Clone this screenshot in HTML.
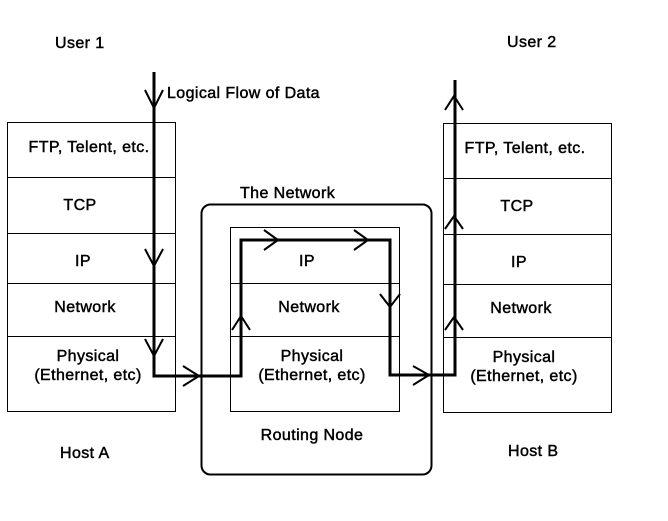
<!DOCTYPE html>
<html><head><style>
html,body{margin:0;padding:0;background:#fff;width:668px;height:521px;overflow:hidden}
svg text{font-family:"Liberation Sans",Arial,sans-serif;font-size:16px;fill:#000;stroke:#000;stroke-width:0.45;letter-spacing:0.4px}
</style></head><body>
<svg width="668" height="521" viewBox="0 0 668 521" xmlns="http://www.w3.org/2000/svg">
<g fill="none" stroke="#000" stroke-width="1">
<rect x="7.5" y="122.5" width="168" height="289"/>
<line x1="7" y1="177.5" x2="176" y2="177.5"/>
<line x1="7" y1="233.5" x2="176" y2="233.5"/>
<line x1="7" y1="283.5" x2="176" y2="283.5"/>
<line x1="7" y1="336.5" x2="176" y2="336.5"/>
<rect x="443.5" y="123.5" width="168" height="289"/>
<line x1="443" y1="178.5" x2="612" y2="178.5"/>
<line x1="443" y1="234.5" x2="612" y2="234.5"/>
<line x1="443" y1="284.5" x2="612" y2="284.5"/>
<line x1="443" y1="337.5" x2="612" y2="337.5"/>
<rect x="230.5" y="227.5" width="169" height="184"/>
<line x1="230" y1="283.5" x2="400" y2="283.5"/>
<line x1="230" y1="336.5" x2="400" y2="336.5"/>
<rect x="201.5" y="204.5" width="230" height="270" rx="9" stroke-width="2"/>
</g>
<g fill="none" stroke="#000" stroke-width="3">
<polyline points="154,72 154,376 241,376 241,240 390,240 390,375 455,375 455,80"/>
</g>
<g fill="none" stroke="#000" stroke-width="2">
<polyline points="145,90 154,108 163,90"/>
<polyline points="145,249 154,266 163,249"/>
<polyline points="145,339 154,356 163,339"/>
<polyline points="183,366 199,376 183,386"/>
<polyline points="232,330 241,316 250,330"/>
<polyline points="264,230 278,240 264,250"/>
<polyline points="354,230 368,240 354,250"/>
<polyline points="380,294 390,307 400,294"/>
<polyline points="413,366 429,375 413,385"/>
<polyline points="445,110 454,96 463,110"/>
<polyline points="445,229 454,216 463,229"/>
<polyline points="445,330 454,317 463,330"/>
</g>
<text x="55" y="48">User 1</text>
<text x="507" y="47">User 2</text>
<text x="167" y="98">Logical Flow of Data</text>
<text x="89" y="152" text-anchor="middle">FTP, Telent, etc.</text>
<text x="80" y="210" text-anchor="middle">TCP</text>
<text x="83" y="266" text-anchor="middle">IP</text>
<text x="85" y="312" text-anchor="middle">Network</text>
<text x="88" y="361" text-anchor="middle">Physical</text>
<text x="88" y="380" text-anchor="middle">(Ethernet, etc)</text>
<text x="60" y="458">Host A</text>
<text x="525" y="153" text-anchor="middle">FTP, Telent, etc.</text>
<text x="517" y="211" text-anchor="middle">TCP</text>
<text x="519" y="267" text-anchor="middle">IP</text>
<text x="521" y="313" text-anchor="middle">Network</text>
<text x="524" y="362" text-anchor="middle">Physical</text>
<text x="524" y="381" text-anchor="middle">(Ethernet, etc)</text>
<text x="508" y="456">Host B</text>
<text x="240" y="198">The Network</text>
<text x="307" y="266" text-anchor="middle">IP</text>
<text x="309" y="312" text-anchor="middle">Network</text>
<text x="312" y="361" text-anchor="middle">Physical</text>
<text x="312" y="380" text-anchor="middle">(Ethernet, etc)</text>
<text x="312" y="440" text-anchor="middle">Routing Node</text>
</svg>
</body></html>
